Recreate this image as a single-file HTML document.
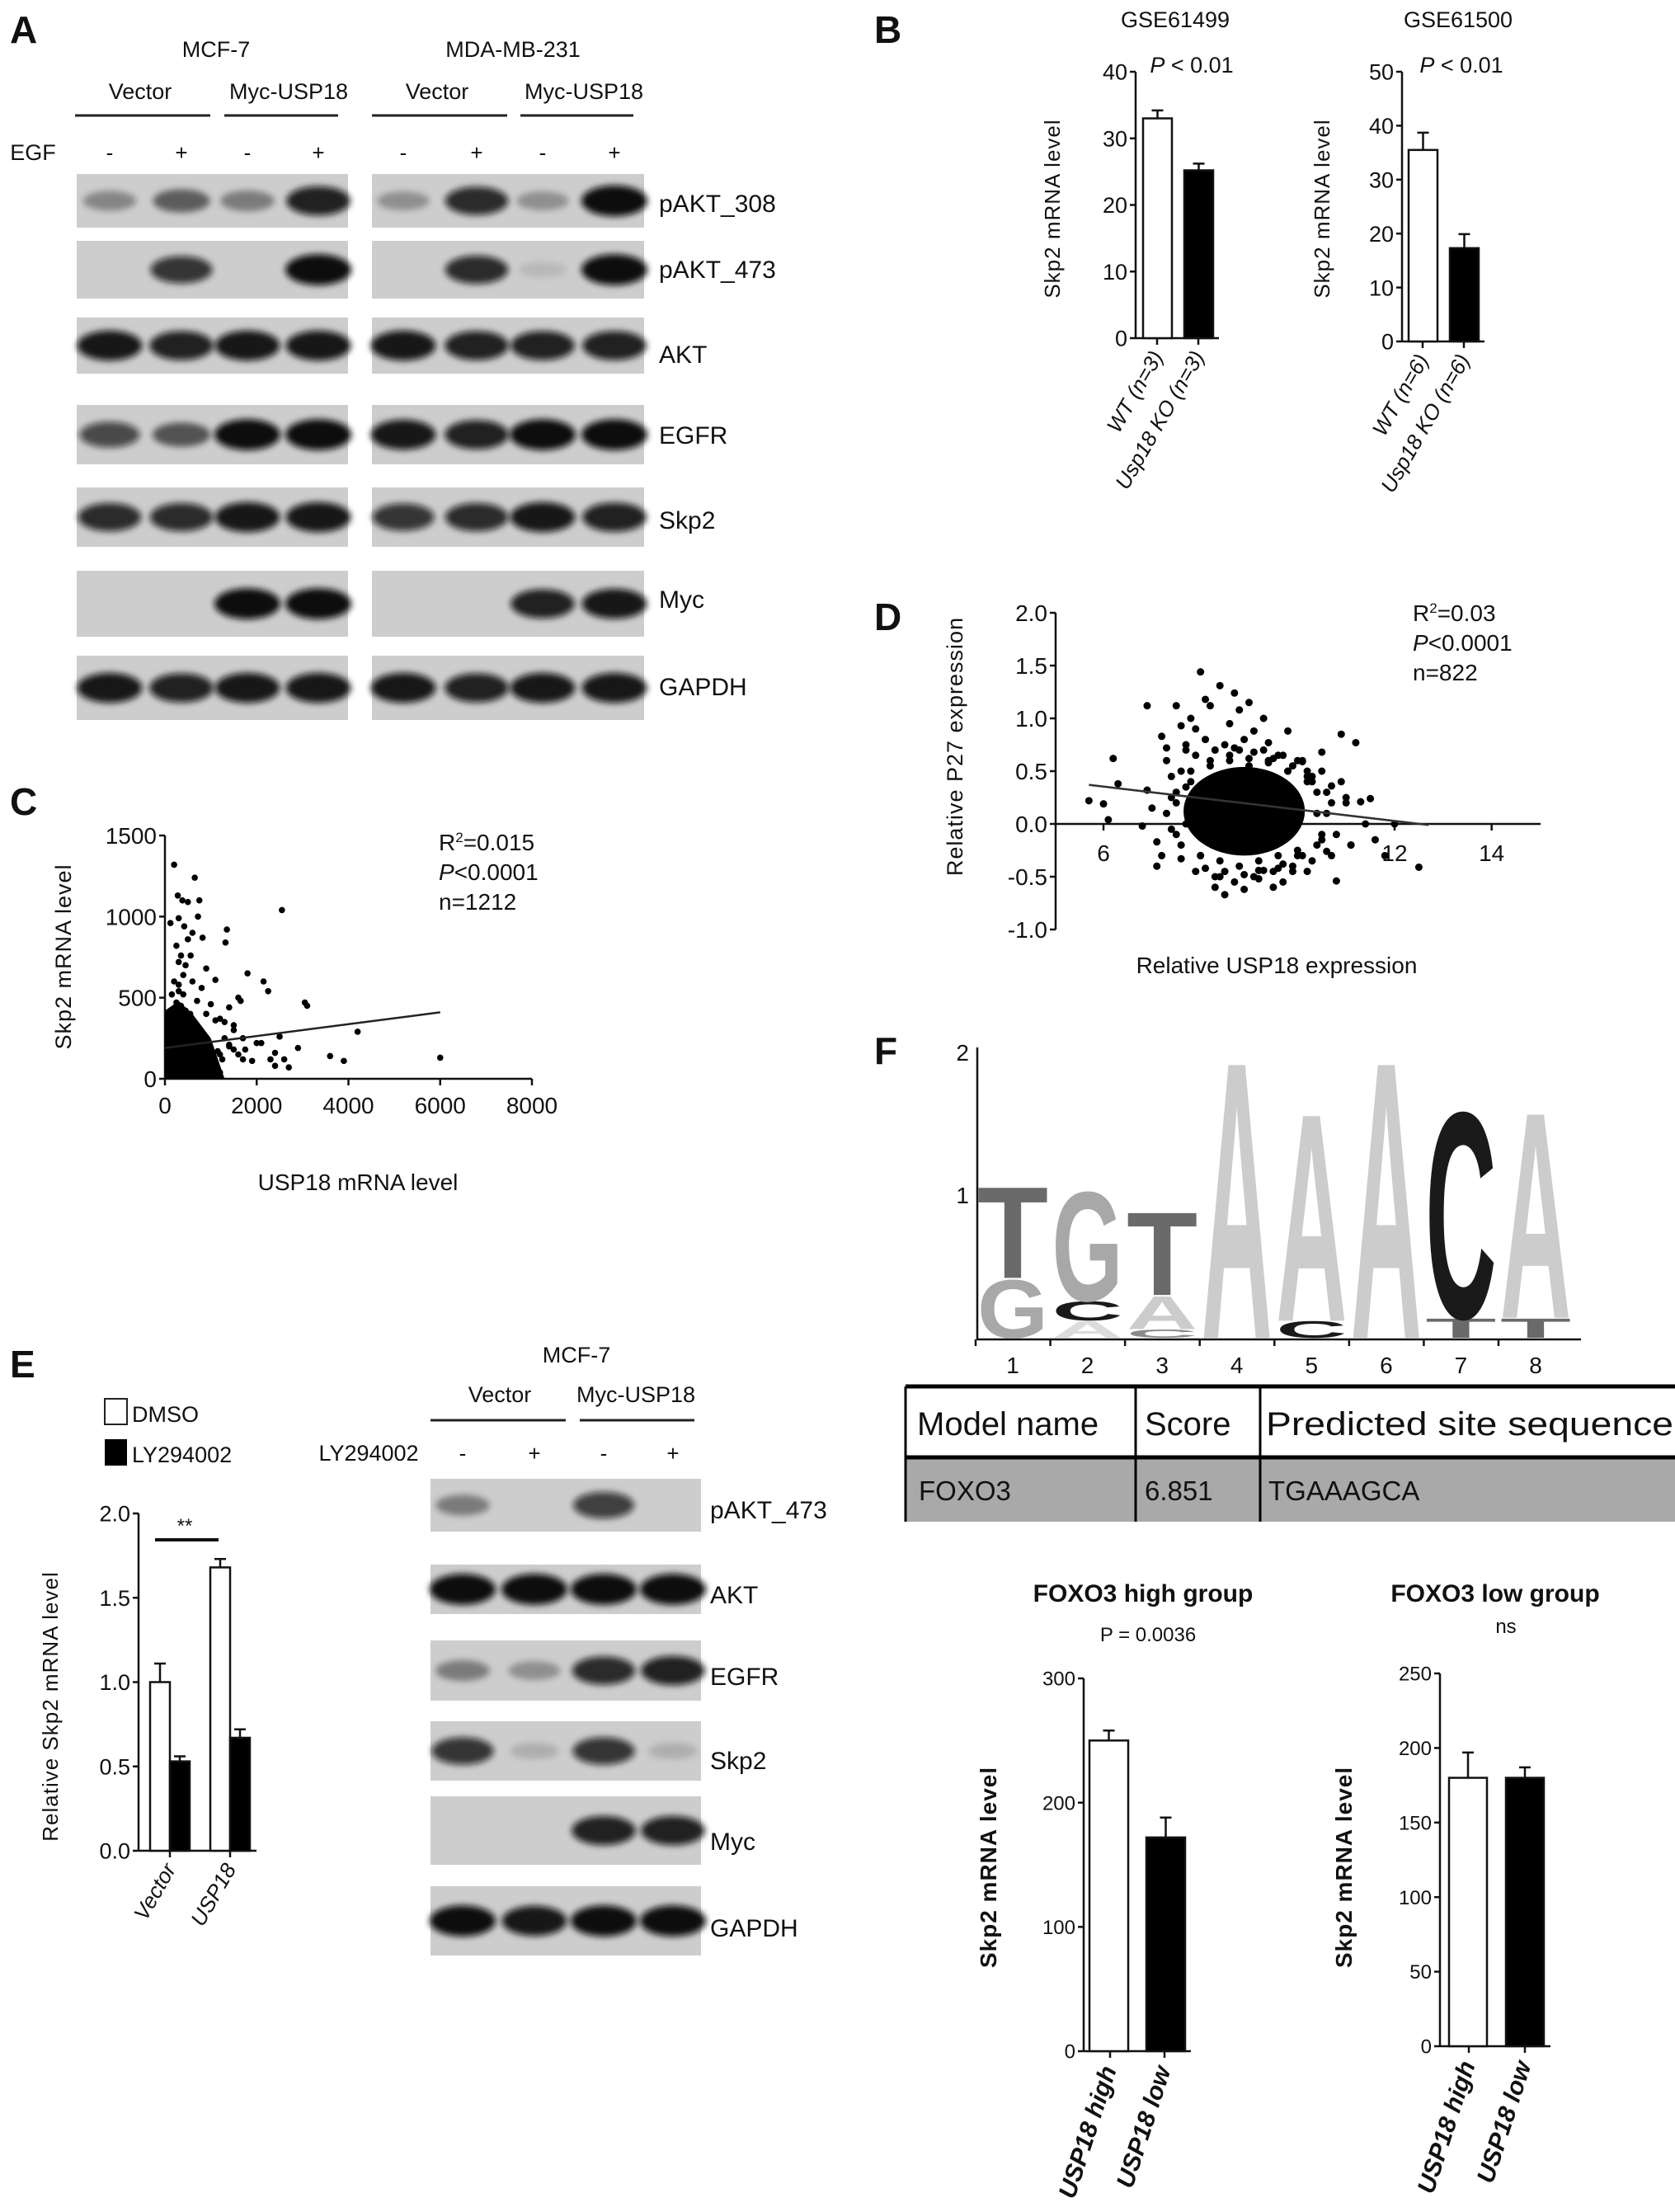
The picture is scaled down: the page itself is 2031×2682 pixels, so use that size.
<!DOCTYPE html>
<html><head><meta charset="utf-8">
<style>
html,body{margin:0;padding:0;background:#fff;}
svg{display:block;}
text{font-family:"Liberation Sans",sans-serif;fill:#111;}
.nw{font-family:"Liberation Sans Narrow","Liberation Sans",sans-serif;}
.pl{font-size:46px;font-weight:bold;}
</style></head>
<body>
<svg id="fig" width="2031" height="2682" viewBox="0 0 2031 2682" xmlns="http://www.w3.org/2000/svg">
<defs><filter id="blur" x="-50%" y="-100%" width="200%" height="300%"><feGaussianBlur stdDeviation="4"/></filter></defs>

<text class="pl" x="12" y="52">A</text>
<text class="pl" x="1060" y="52">B</text>
<text class="pl" x="12" y="988">C</text>
<text class="pl" x="1060" y="764">D</text>
<text class="pl" x="12" y="1670">E</text>
<text class="pl" x="1060" y="1290">F</text>

<g class="nw" font-size="27" text-anchor="middle">
<text x="262" y="69">MCF-7</text>
<text x="622" y="69">MDA-MB-231</text>
<text x="170" y="120">Vector</text>
<text x="350" y="120">Myc-USP18</text>
<text x="530" y="120">Vector</text>
<text x="708" y="120">Myc-USP18</text>
<text x="40" y="194">EGF</text>
</g>
<g stroke="#222" stroke-width="3">
<line x1="91" y1="140" x2="255" y2="140"/><line x1="272" y1="140" x2="410" y2="140"/>
<line x1="451" y1="140" x2="615" y2="140"/><line x1="631" y1="140" x2="768" y2="140"/>
</g>
<g id="egfSigns" class="nw" font-size="26" text-anchor="middle"></g>
<g id="blotsA"></g>
<g class="nw" font-size="30">
<text x="799" y="257">pAKT_308</text><text x="799" y="337">pAKT_473</text>
<text x="799" y="440">AKT</text><text x="799" y="538">EGFR</text>
<text x="799" y="641">Skp2</text><text x="799" y="737">Myc</text><text x="799" y="843">GAPDH</text>
</g>

<g class="nw" font-size="27" text-anchor="middle">
<text x="1425" y="33">GSE61499</text>
<text x="1768" y="33">GSE61500</text>
<text x="1445" y="88"><tspan font-style="italic">P</tspan> &lt; 0.01</text>
<text x="1772" y="88"><tspan font-style="italic">P</tspan> &lt; 0.01</text>
</g>
<text transform="translate(1285,253) rotate(-90)" font-size="26" text-anchor="middle" letter-spacing="1">Skp2 mRNA  level</text>
<text transform="translate(1612,253) rotate(-90)" font-size="26" text-anchor="middle" letter-spacing="1">Skp2 mRNA  level</text>
<g id="chartB1"></g>
<g id="chartB2"></g>

<g id="chartC"></g>
<text transform="translate(86,1160) rotate(-90)" font-size="27" text-anchor="middle" letter-spacing="1">Skp2 mRNA  level</text>
<text x="434" y="1443" class="nw" font-size="28" text-anchor="middle">USP18 mRNA level</text>
<g class="nw" font-size="28">
<text x="532" y="1031">R<tspan font-size="17" dy="-10">2</tspan><tspan dy="10">=0.015</tspan></text>
<text x="532" y="1067"><tspan font-style="italic">P</tspan>&lt;0.0001</text>
<text x="532" y="1103">n=1212</text>
</g>

<g id="chartD"></g>
<text transform="translate(1167,905) rotate(-90)" font-size="27" text-anchor="middle" letter-spacing="1">Relative  P27 expression</text>
<text x="1548" y="1180" class="nw" font-size="28" text-anchor="middle">Relative USP18 expression</text>
<g class="nw" font-size="28">
<text x="1713" y="753">R<tspan font-size="17" dy="-10">2</tspan><tspan dy="10">=0.03</tspan></text>
<text x="1713" y="789"><tspan font-style="italic">P</tspan>&lt;0.0001</text>
<text x="1713" y="825">n=822</text>
</g>

<g id="logo"></g>
<g>
<rect x="1098" y="1767" width="933" height="78" fill="#a9a9a9"/>
<line x1="1098" y1="1681" x2="2031" y2="1681" stroke="#000" stroke-width="5"/>
<line x1="1098" y1="1767" x2="2031" y2="1767" stroke="#000" stroke-width="5"/>
<line x1="1098" y1="1681" x2="1098" y2="1845" stroke="#000" stroke-width="3"/>
<line x1="1377" y1="1681" x2="1377" y2="1845" stroke="#000" stroke-width="3"/>
<line x1="1528" y1="1681" x2="1528" y2="1845" stroke="#000" stroke-width="3"/>
<text x="1112" y="1740" font-size="40">Model name</text>
<text x="1388" y="1740" font-size="40">Score</text>
<text x="1535" y="1740" font-size="40" textLength="494" lengthAdjust="spacingAndGlyphs">Predicted site sequence</text>
<text x="1114" y="1819" class="nw" font-size="33">FOXO3</text>
<text x="1388" y="1819" class="nw" font-size="33">6.851</text>
<text x="1538" y="1819" class="nw" font-size="33">TGAAAGCA</text>
</g>

<g class="nw" font-size="27" text-anchor="middle">
<text x="699" y="1652">MCF-7</text>
<text x="606" y="1700">Vector</text>
<text x="771" y="1700">Myc-USP18</text>
<text x="447" y="1771">LY294002</text>
</g>
<g stroke="#222" stroke-width="3">
<line x1="522" y1="1722" x2="686" y2="1722"/><line x1="703" y1="1722" x2="842" y2="1722"/>
</g>
<g id="lySigns" class="nw" font-size="26" text-anchor="middle"></g>
<rect x="127" y="1696" width="27" height="31" fill="#fff" stroke="#222" stroke-width="2"/>
<text x="160" y="1724" class="nw" font-size="27">DMSO</text>
<rect x="127" y="1745" width="27" height="32" fill="#000"/>
<text x="160" y="1773" class="nw" font-size="27">LY294002</text>
<g id="chartE"></g>
<text transform="translate(70,2069) rotate(-90)" font-size="26" text-anchor="middle" letter-spacing="1">Relative  Skp2 mRNA  level</text>
<g id="blotsE"></g>
<g class="nw" font-size="30">
<text x="861" y="1841">pAKT_473</text><text x="861" y="1944">AKT</text><text x="861" y="2043">EGFR</text>
<text x="861" y="2145">Skp2</text><text x="861" y="2243">Myc</text><text x="861" y="2348">GAPDH</text>
</g>

<text x="1386" y="1942" class="nw" font-size="30" font-weight="bold" text-anchor="middle">FOXO3 high group</text>
<text x="1392" y="1990" class="nw" font-size="24" text-anchor="middle">P = 0.0036</text>
<text x="1813" y="1942" class="nw" font-size="30" font-weight="bold" text-anchor="middle">FOXO3 low group</text>
<text x="1826" y="1980" class="nw" font-size="24" text-anchor="middle">ns</text>
<text transform="translate(1208,2264) rotate(-90)" font-size="28" font-weight="bold" text-anchor="middle" letter-spacing="1">Skp2 mRNA level</text>
<text transform="translate(1639,2264) rotate(-90)" font-size="28" font-weight="bold" text-anchor="middle" letter-spacing="1">Skp2 mRNA level</text>
<g id="chartFH"></g>
<g id="chartFL"></g>
</svg>

<script>
const laneSigns = ['-', '+', '-', '+'];
const blotRowsA = ['pAKT_308','pAKT_473','AKT','EGFR','Skp2','Myc','GAPDH'];
const blotAleft  = [[0.35,0.55,0.4,0.9],[0,0.8,0,1],[0.95,0.9,0.95,0.95],[0.7,0.6,1,1],[0.85,0.85,0.95,0.95],[0,0,1,1],[0.95,0.9,0.95,0.95]];
const blotAright = [[0.3,0.85,0.3,1],[0,0.85,0.1,1],[0.95,0.9,0.9,0.9],[0.95,0.9,1,1],[0.8,0.85,0.95,0.9],[0,0,0.9,0.95],[0.95,0.9,0.95,0.95]];
const blotRowsE = ['pAKT_473','AKT','EGFR','Skp2','Myc','GAPDH'];
const blotE = [[0.4,0,0.75,0],[1,1,1,1],[0.4,0.3,0.85,0.9],[0.8,0.15,0.8,0.15],[0,0,0.9,0.9],[1,0.95,1,1]];

const b1Cats = ['WT (n=3)', 'Usp18 KO (n=3)'];
const b1Vals = [33.0, 25.2];
const b1Err = [1.2, 1.0];
const b1Ticks = [0, 10, 20, 30, 40];
const b2Cats = ['WT (n=6)', 'Usp18 KO (n=6)'];
const b2Vals = [35.5, 17.3];
const b2Err = [3.2, 2.6];
const b2Ticks = [0, 10, 20, 30, 40, 50];
const eCats = ['Vector', 'USP18'];
const eDmso = [1.0, 1.68];
const eDmsoErr = [0.11, 0.05];
const eLy = [0.53, 0.67];
const eLyErr = [0.03, 0.05];
const eTicks = [0, 0.5, 1.0, 1.5, 2.0];
const fCats = ['USP18 high', 'USP18 low'];
const fHighVals = [250, 172];
const fHighErr = [8, 16];
const fHighTicks = [0, 100, 200, 300];
const fLowVals = [180, 180];
const fLowErr = [17, 7];
const fLowTicks = [0, 50, 100, 150, 200, 250];

const cX = [200,650,2550,280,380,500,720,120,300,420,600,750,1350,1320,820,560,900,1100,1800,2150,2250,1600,1650,1400,3050,3100,3600,3900,4200,6000,2700,2500,2400,2000,1900,1750,2900,2300,1500,1200,1000,800,600,400,300,250,500,350,450,700,150,900,1100,1300,1500,1700,1400,1200,1000,2100,2400,2600,
  100,200,300,400,500,600,700,800,900,1000,1100,1200,100,200,300,400,500,600,700,800,900,1000,1100,150,250,350,450,550,650,750,850,950,1050,1150,1250,100,200,300,400,500,600,700,800,900,200,300,400,500,600,700,250,350,450,550,300,400,200,300,1300,1400,1500,1600,1700];
const cY = [1320,1240,1040,1130,1100,1090,1000,960,990,940,900,1100,920,840,870,760,680,610,650,600,540,500,480,440,470,450,140,110,290,130,70,260,80,220,110,180,190,120,330,370,460,560,600,640,720,820,860,760,700,480,520,400,360,350,300,250,200,150,100,220,160,120,
  50,60,40,70,50,30,60,40,70,30,50,40,130,150,120,140,110,130,160,120,100,140,90,210,230,200,220,190,240,180,200,170,150,170,120,290,310,280,300,270,260,250,240,230,380,400,360,350,330,300,470,450,420,400,540,520,600,580,250,210,180,150,120];
const cLineX = [0, 6000];
const cLineY = [190, 410];
const cXTicks = [0, 2000, 4000, 6000, 8000];
const cYTicks = [0, 500, 1000, 1500];
const cCoreX = [0, 1300, 1000, 600, 300, 0];
const cCoreY = [0, 0, 250, 400, 480, 420];

const dX = [5.7,6.0,6.1,6.2,6.3,6.9,6.8,6.9,7.0,7.1,7.2,7.3,7.1,7.2,7.5,7.6,7.4,7.7,7.8,7.9,7.6,8.0,8.1,8.2,8.3,8.4,8.5,8.6,8.7,8.8,8.9,9.0,9.1,9.2,9.3,9.4,9.5,9.6,9.7,9.8,9.9,10.0,10.1,10.2,10.3,10.5,10.6,10.7,10.8,10.9,11.0,11.1,11.2,11.3,11.4,11.5,11.6,11.8,12.0,12.5,7.3,7.5,7.7,7.9,8.1,8.3,8.5,8.7,8.9,9.1,9.3,9.5,9.7,9.9,10.1,10.3,10.5,10.7,10.9,11.1,7.4,7.8,8.2,8.6,9.0,9.4,9.8,10.2,10.6,11.0,7.6,8.0,8.4,8.8,9.2,9.6,10.0,10.4,10.8,
  7.3,7.5,7.4,7.6,7.5,7.7,10.4,10.6,10.5,10.7,10.3,10.5,7.9,8.3,8.7,9.1,9.5,9.9,10.2,8.1,8.5,8.9,9.3,9.7,10.1,7.8,8.2,8.6,9.0,9.4,9.8,10.2,7.7,10.4,8.0,9.6,8.8,9.2,8.4,10.0];
const dY = [0.22,0.19,0.04,0.62,0.38,0.32,-0.02,1.12,0.15,-0.17,0.83,0.72,-0.4,-0.3,1.12,0.93,0.45,0.75,1.0,0.9,-0.33,1.44,1.18,1.12,-0.6,1.31,-0.67,0.95,1.24,1.08,-0.62,1.15,0.88,-0.52,1.0,0.77,-0.6,0.65,-0.55,0.88,-0.45,0.6,0.59,-0.45,0.4,0.68,-0.26,0.36,-0.54,0.85,0.25,-0.2,0.77,0.21,0.0,0.24,-0.15,-0.3,0.0,-0.41,0.6,-0.1,0.7,-0.45,0.8,-0.5,0.75,-0.55,0.8,-0.5,0.7,-0.45,0.65,-0.4,0.6,-0.35,0.5,-0.3,0.4,-0.2,0.25,0.5,0.6,0.65,0.55,0.6,0.5,0.4,0.3,0.2,-0.2,-0.3,-0.35,-0.4,-0.35,-0.3,-0.25,-0.2,-0.1,
  0.1,0.3,-0.05,0.5,0.2,0.0,0.3,0.1,-0.1,0.2,0.45,-0.15,0.65,0.7,0.72,0.68,0.62,0.55,0.5,-0.42,-0.45,-0.48,-0.44,-0.38,-0.3,0.4,0.55,0.6,0.62,0.58,0.5,0.45,0.35,0.1,-0.3,-0.42,0.7,-0.44,-0.5,-0.3];
const dLineX = [5.7, 12.7];
const dLineY = [0.37, -0.01];
const dXTicks = [6, 8, 10, 12, 14];
const dXTickShow = ['6', '', '', '12', '14'];
const dYTicks = [-1.0, -0.5, 0.0, 0.5, 1.0, 1.5, 2.0];
const dCoreCx = [8.9];
const dCoreCy = [0.12];
const dCoreRx = [1.25];
const dCoreRy = [0.42];

const logoPos = [1,2,3,4,5,6,7,8];
const logoStacks = [
  [['G',0.42,'#a8a8a8'],['T',0.66,'#6a6a6a']],
  [['A',0.12,'#dcdcdc'],['C',0.14,'#1a1a1a'],['G',0.79,'#a8a8a8']],
  [['C',0.06,'#8a8a8a'],['A',0.24,'#cccccc'],['T',0.60,'#6a6a6a']],
  [['A',2.0,'#cccccc']],
  [['C',0.12,'#1a1a1a'],['A',1.5,'#cccccc']],
  [['A',2.0,'#cccccc']],
  [['T',0.14,'#6a6a6a'],['C',1.49,'#1a1a1a']],
  [['T',0.14,'#6a6a6a'],['A',1.49,'#cccccc']]
];
const logoTicks = [1, 2];

const NS = 'http://www.w3.org/2000/svg';
function mk(tag, attrs, parent) {
  const e = document.createElementNS(NS, tag);
  for (const k in attrs) e.setAttribute(k, attrs[k]);
  parent.appendChild(e);
  return e;
}
function lin(d0, d1, r0, r1) { return v => r0 + (v - d0) * (r1 - r0) / (d1 - d0); }

function signs(gid, xs, y) {
  const g = document.getElementById(gid);
  xs.forEach((x, i) => {
    const t = mk('text', {x: x, y: y}, g);
    t.textContent = laneSigns[i % 4];
    
    
  });
}
signs('egfSigns', [133,220,300,386,489,578,658,745], 194);
signs('lySigns', [561,648,732,816], 1771);

function blot(gid, x0, x1, y0, y1, lanes, vals, rx, ry) {
  const g = document.getElementById(gid);
  const r = mk('rect', {x: x0, y: y0, width: x1 - x0, height: y1 - y0, fill: '#cdcdcd'}, g);
  
  
  const cy = (y0 + y1) / 2;
  vals.forEach((v, i) => {
    if (v <= 0) return;
    const b = mk('ellipse', {cx: lanes[i], cy: cy, rx: rx * (0.7 + 0.3 * v), ry: ry * (0.5 + 0.6 * v), fill: '#0a0a0a', 'fill-opacity': Math.min(1, v), filter: 'url(#blur)'}, g);
    
    
  });
}
const rowYA = [[211,276],[292,362],[385,453],[491,563],[591,663],[692,772],[795,873]];
blotRowsA.forEach((n, i) => {
  blot('blotsA', 93, 422, rowYA[i][0], rowYA[i][1], [133,220,300,386], blotAleft[i], 40, 17);
  blot('blotsA', 451, 781, rowYA[i][0], rowYA[i][1], [489,578,658,745], blotAright[i], 40, 17);
});
const rowYE = [[1793,1857],[1897,1957],[1989,2062],[2087,2159],[2178,2261],[2287,2371]];
blotRowsE.forEach((n, i) => {
  blot('blotsE', 522, 850, rowYE[i][0], rowYE[i][1], [561,648,732,816], blotE[i], 40, 17);
});

function yAxis(g, x, ys, ticks, labelFn, fs) {
  const a = mk('line', {x1: x, y1: ys(ticks[ticks.length-1]), x2: x, y2: ys(ticks[0]), stroke: '#111', 'stroke-width': 2.5}, g);
  
  
  ticks.forEach(t => {
    const tk = mk('line', {x1: x - 7, y1: ys(t), x2: x, y2: ys(t), stroke: '#111', 'stroke-width': 2.5}, g);
    
    
    const lb = mk('text', {x: x - 10, y: ys(t) + fs * 0.36, 'text-anchor': 'end', 'font-size': fs, class: 'nw'}, g);
    lb.textContent = labelFn(t);
    
    
  });
}

function barChart(gid, o) {
  const g = document.getElementById(gid);
  const ys = lin(0, o.max, o.y0, o.yTop);
  yAxis(g, o.ax, ys, o.ticks, o.fmt, o.fs);
  const xa = mk('line', {x1: o.ax, y1: o.y0, x2: o.xEnd, y2: o.y0, stroke: '#111', 'stroke-width': 2.5}, g);
  
  
  o.series.forEach((s, si) => {
    s.vals.forEach((v, i) => {
      const x = o.barX(i, si);
      const bar = mk('rect', {x: x, y: ys(v), width: o.bw, height: o.y0 - ys(v), fill: s.fill, stroke: '#111', 'stroke-width': 2.5}, g);
      
      
      const cx = x + o.bw / 2;
      const eb = mk('path', {d: 'M' + cx + ' ' + ys(v) + 'V' + ys(v + s.err[i]) + 'M' + (cx - 7) + ' ' + ys(v + s.err[i]) + 'H' + (cx + 7), stroke: '#111', 'stroke-width': 2.5, fill: 'none'}, g);
      
      
    });
  });
  o.cats.forEach((c, i) => {
    const cx = o.catX(i);
    const tk = mk('line', {x1: cx, y1: o.y0, x2: cx, y2: o.y0 + 8, stroke: '#111', 'stroke-width': 2.5}, g);
    
    
    const t = mk('text', {transform: 'translate(' + (cx + 8) + ',' + (o.y0 + 22) + ') rotate(' + o.rot + ')', 'text-anchor': 'end', 'font-size': o.cfs, 'font-style': 'italic', 'font-weight': o.cbold ? 'bold' : 'normal'}, g);
    t.textContent = c;
    
    
  });
}

barChart('chartB1', {ax: 1377, y0: 410, yTop: 87, max: 40, ticks: b1Ticks, fmt: t => t, fs: 27, xEnd: 1478, bw: 35, cats: b1Cats, rot: -60, cfs: 26,
  series: [{name: 'wt', vals: [b1Vals[0]], err: [b1Err[0]], fill: '#fff'}, {name: 'ko', vals: [b1Vals[1]], err: [b1Err[1]], fill: '#000'}],
  barX: (i, si) => si === 0 ? 1386 : 1436, catX: i => i === 0 ? 1403 : 1453});
barChart('chartB2', {ax: 1700, y0: 414, yTop: 87, max: 50, ticks: b2Ticks, fmt: t => t, fs: 27, xEnd: 1800, bw: 35, cats: b2Cats, rot: -60, cfs: 26,
  series: [{name: 'wt', vals: [b2Vals[0]], err: [b2Err[0]], fill: '#fff'}, {name: 'ko', vals: [b2Vals[1]], err: [b2Err[1]], fill: '#000'}],
  barX: (i, si) => si === 0 ? 1708 : 1758, catX: i => i === 0 ? 1725 : 1775});
barChart('chartE', {ax: 168, y0: 2244, yTop: 1835, max: 2.0, ticks: eTicks, fmt: t => t.toFixed(1), fs: 27, xEnd: 311, bw: 24, cats: eCats, rot: -60, cfs: 26,
  series: [{name: 'dmso', vals: eDmso, err: eDmsoErr, fill: '#fff'}, {name: 'ly', vals: eLy, err: eLyErr, fill: '#000'}],
  barX: (i, si) => 182 + i * 73 + si * 24, catX: i => 206 + i * 73});
barChart('chartFH', {ax: 1314, y0: 2487, yTop: 2035, max: 300, ticks: fHighTicks, fmt: t => t, fs: 24, xEnd: 1444, bw: 47, cats: fCats, rot: -72, cfs: 30, cbold: true,
  series: [{name: 'usp18-high', vals: [fHighVals[0]], err: [fHighErr[0]], fill: '#fff'}, {name: 'usp18-low', vals: [fHighVals[1]], err: [fHighErr[1]], fill: '#000'}],
  barX: (i, si) => si === 0 ? 1321 : 1390, catX: i => i === 0 ? 1346 : 1412});
barChart('chartFL', {ax: 1746, y0: 2481, yTop: 2029, max: 250, ticks: fLowTicks, fmt: t => t, fs: 24, xEnd: 1880, bw: 46, cats: fCats, rot: -72, cfs: 30, cbold: true,
  series: [{name: 'usp18-high', vals: [fLowVals[0]], err: [fLowErr[0]], fill: '#fff'}, {name: 'usp18-low', vals: [fLowVals[1]], err: [fLowErr[1]], fill: '#000'}],
  barX: (i, si) => si === 0 ? 1757 : 1826, catX: i => i === 0 ? 1781 : 1849});

(function () {
  const g = document.getElementById('chartE');
  const l = mk('line', {x1: 188, y1: 1867, x2: 265, y2: 1867, stroke: '#111', 'stroke-width': 4}, g);
  
  
  const t = mk('text', {x: 224, y: 1858, 'text-anchor': 'middle', 'font-size': 24}, g);
  t.textContent = '**';
  
  
})();

(function () {
  const g = document.getElementById('chartC');
  const xs = lin(0, 8000, 200, 645), ys = lin(0, 1500, 1308, 1013);
  yAxis(g, 200, ys, cYTicks, t => t, 28);
  const xa = mk('line', {x1: 200, y1: 1308, x2: 645, y2: 1308, stroke: '#111', 'stroke-width': 2.5}, g);
  
  
  cXTicks.forEach(t => {
    const tk = mk('line', {x1: xs(t), y1: 1308, x2: xs(t), y2: 1316, stroke: '#111', 'stroke-width': 2.5}, g);
    
    
    const lb = mk('text', {x: xs(t), y: 1350, 'text-anchor': 'middle', 'font-size': 28, class: 'nw'}, g);
    lb.textContent = t;
    
    
  });
  const core = mk('polygon', {points: cCoreX.map((x, i) => xs(x) + ',' + ys(cCoreY[i])).join(' '), fill: '#000'}, g);
  
  
  cX.forEach((x, i) => {
    const p = mk('circle', {cx: xs(x), cy: ys(cY[i]), r: 3.8, fill: '#000'}, g);
    
    
  });
  const rl = mk('line', {x1: xs(cLineX[0]), y1: ys(cLineY[0]), x2: xs(cLineX[1]), y2: ys(cLineY[1]), stroke: '#222', 'stroke-width': 2.5}, g);
  
  
})();

(function () {
  const g = document.getElementById('chartD');
  const xs = lin(6, 12, 1338, 1691), ys = lin(0, 2, 999, 743);
  yAxis(g, 1280, ys, dYTicks, t => t.toFixed(1), 28);
  const xa = mk('line', {x1: 1280, y1: ys(0), x2: 1868, y2: ys(0), stroke: '#111', 'stroke-width': 2.5}, g);
  
  
  dXTicks.forEach((t, i) => {
    const tk = mk('line', {x1: xs(t), y1: ys(0), x2: xs(t), y2: ys(0) + 8, stroke: '#111', 'stroke-width': 2.5}, g);
    
    
    if (!dXTickShow[i]) return;
    const lb = mk('text', {x: xs(t), y: ys(0) + 45, 'text-anchor': 'middle', 'font-size': 28, class: 'nw'}, g);
    lb.textContent = dXTickShow[i];
    
    
  });
  const core = mk('ellipse', {cx: xs(dCoreCx[0]), cy: ys(dCoreCy[0]), rx: xs(dCoreCx[0] + dCoreRx[0]) - xs(dCoreCx[0]), ry: ys(dCoreCy[0]) - ys(dCoreCy[0] + dCoreRy[0]), fill: '#000'}, g);
  
  
  dX.forEach((x, i) => {
    const p = mk('circle', {cx: xs(x), cy: ys(dY[i]), r: 4.5, fill: '#000'}, g);
    
    
  });
  const rl = mk('line', {x1: xs(dLineX[0]), y1: ys(dLineY[0]), x2: xs(dLineX[1]), y2: ys(dLineY[1]), stroke: '#333', 'stroke-width': 2.5}, g);
  
  
})();

(function () {
  const g = document.getElementById('logo');
  const xs = lin(1, 8, 1228, 1862), ys = lin(0, 2, 1622, 1276);
  const ya = mk('line', {x1: 1185, y1: 1270, x2: 1185, y2: 1625, stroke: '#111', 'stroke-width': 2.5}, g);
  
  
  const xa = mk('line', {x1: 1185, y1: 1624, x2: 1917, y2: 1624, stroke: '#111', 'stroke-width': 2.5}, g);
  
  
  logoTicks.forEach(t => {
    const lb = mk('text', {x: 1175, y: ys(t) + 10, 'text-anchor': 'end', 'font-size': 28, class: 'nw'}, g);
    lb.textContent = t;
    
    
  });
  logoPos.forEach((p, i) => {
    const cx = xs(p);
    const tk = mk('line', {x1: cx - 45, y1: 1624, x2: cx - 45, y2: 1632, stroke: '#111', 'stroke-width': 2.5}, g);
    
    
    const lb = mk('text', {x: cx, y: 1665, 'text-anchor': 'middle', 'font-size': 28, class: 'nw'}, g);
    lb.textContent = p;
    
    
    let base = 0;
    logoStacks[i].forEach(s => {
      const h = ys(base) - ys(base + s[1]);
      const sy = h / 72;
      const t = mk('text', {x: cx - 43, y: 0, 'font-size': 100, 'font-weight': 'bold', fill: s[2], style: 'fill:' + s[2], textLength: 86, lengthAdjust: 'spacingAndGlyphs', transform: 'translate(0,' + ys(base) + ') scale(1,' + sy + ')'}, g);
      t.textContent = s[0];
      
      
      base += s[1];
    });
  });
})();
</script>
</body></html>
